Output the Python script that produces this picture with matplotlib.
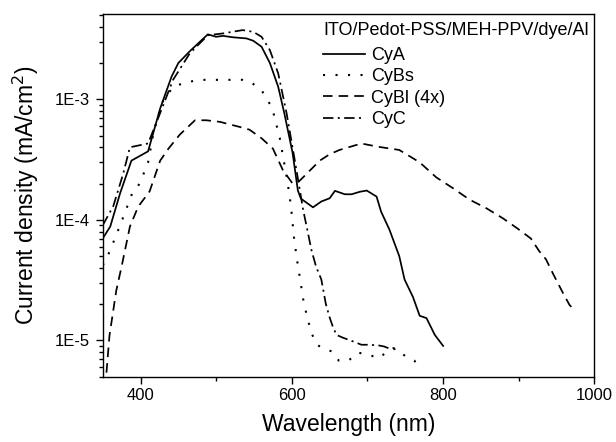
import numpy as np
import matplotlib
matplotlib.use("Agg")
import matplotlib.pyplot as plt
from matplotlib.ticker import FixedLocator, LogLocator, NullFormatter, MultipleLocator

plt.rcParams['font.family'] = ['Liberation Sans', 'DejaVu Sans']

# ---- data ----
cya_x = [350, 360, 373, 388, 410, 426, 441, 450, 465, 489, 500, 509, 522, 540, 549, 560,
         571, 582, 590, 601, 608, 612, 628, 639, 650, 657, 670, 679, 690, 699, 712, 718,
         729, 742, 749, 760, 769, 778, 789, 800]
cya_y = [7.0e-5, 8.8e-5, 1.66e-4, 3.1e-4, 3.7e-4, 8.4e-4, 1.54e-3, 2.0e-3, 2.5e-3, 3.46e-3,
         3.3e-3, 3.36e-3, 3.27e-3, 3.2e-3, 3.06e-3, 2.73e-3, 2.0e-3, 1.27e-3, 7.7e-4, 3.6e-4,
         1.75e-4, 1.5e-4, 1.27e-4, 1.42e-4, 1.51e-4, 1.74e-4, 1.63e-4, 1.63e-4, 1.71e-4,
         1.75e-4, 1.56e-4, 1.17e-4, 8.3e-5, 5.0e-5, 3.2e-5, 2.3e-5, 1.6e-5, 1.53e-5, 1.11e-5,
         9.0e-6]

cybs_x = [350, 353, 360, 375, 389, 399, 410, 417, 428, 443, 460, 478, 535, 547, 560, 574,
          584, 593, 597, 600, 603, 607, 611, 615, 620, 626, 633, 643, 653, 662, 675, 687,
          700, 714, 727, 738, 751, 762, 770]
cybs_y = [4.2e-5, 4.5e-5, 5.6e-5, 9.7e-5, 1.66e-4, 2.0e-4, 3.0e-4, 5.2e-4, 9.3e-4, 1.27e-3,
          1.38e-3, 1.45e-3, 1.45e-3, 1.37e-3, 1.19e-3, 8.5e-4, 4.8e-4, 2.3e-4, 1.6e-4,
          1.1e-4, 7.0e-5, 4.6e-5, 3.2e-5, 2.2e-5, 1.58e-5, 1.15e-5, 9.2e-6, 8.5e-6, 8.1e-6,
          6.8e-6, 6.8e-6, 7.9e-6, 7.7e-6, 7.1e-6, 8.1e-6, 8.6e-6, 7.3e-6, 6.8e-6, 5.6e-6]

cybl_x = [355, 359, 368, 375, 386, 397, 412, 426, 437, 452, 472, 487, 505, 531, 544, 560,
          575, 588, 601, 610, 637, 650, 663, 692, 713, 742, 769, 791, 813, 835, 857, 879,
          898, 916, 927, 936, 945, 958, 967, 973]
cybl_y = [5.4e-6, 1.1e-5, 2.6e-5, 4.1e-5, 8.8e-5, 1.29e-4, 1.72e-4, 3.1e-4, 3.9e-4, 5.1e-4,
          6.7e-4, 6.7e-4, 6.5e-4, 5.9e-4, 5.6e-4, 4.75e-4, 3.9e-4, 2.6e-4, 2.0e-4, 2.1e-4,
          3.1e-4, 3.5e-4, 3.8e-4, 4.3e-4, 4.05e-4, 3.8e-4, 3.0e-4, 2.25e-4, 1.83e-4, 1.47e-4,
          1.25e-4, 1.03e-4, 8.5e-5, 7.0e-5, 5.5e-5, 4.7e-5, 3.6e-5, 2.5e-5, 1.97e-5, 1.8e-5]

cyc_x = [350, 364, 377, 386, 410, 426, 443, 465, 489, 509, 535, 549, 560, 571, 582, 593,
         604, 615, 626, 632, 639, 645, 650, 654, 659, 668, 681, 692, 700, 714, 722, 730, 740]
cyc_y = [9.0e-5, 1.3e-4, 2.4e-4, 4.0e-4, 4.3e-4, 7.7e-4, 1.45e-3, 2.4e-3, 3.4e-3, 3.52e-3,
         3.75e-3, 3.63e-3, 3.3e-3, 2.56e-3, 1.64e-3, 7.7e-4, 3.1e-4, 1.21e-4, 5.6e-5, 4.1e-5,
         3.2e-5, 2.0e-5, 1.55e-5, 1.31e-5, 1.11e-5, 1.05e-5, 9.8e-6, 9.2e-6, 9.2e-6, 9.1e-6,
         8.9e-6, 8.5e-6, 8.8e-6]

labels = ['CyA', 'CyBs', 'CyBl (4x)', 'CyC']
legend_title = 'ITO/Pedot-PSS/MEH-PPV/dye/Al'
ytick_vals = [1e-5, 1e-4, 1e-3]
ytick_labels = ['1E-5', '1E-4', '1E-3']
xtick_vals = [400, 600, 800, 1000]

# ---- figure ----
fig = plt.figure(figsize=(6.16, 4.42), dpi=100)
ax = fig.add_axes([0.1667, 0.1478, 0.7983, 0.8205])

lw = 1.25
ax.plot(cya_x, cya_y, color='black', lw=lw, linestyle='-', label=labels[0])
ax.plot(cybs_x, cybs_y, color='black', lw=lw * 1.2, linestyle=(0, (1, 5.0)), label=labels[1])
ax.plot(cybl_x, cybl_y, color='black', lw=lw, linestyle=(0, (5.5, 3.5)), label=labels[2])
ax.plot(cyc_x, cyc_y, color='black', lw=lw, linestyle=(0, (6, 2.5, 1.2, 2.5)), label=labels[3])

ax.set_yscale('log')
ax.set_xlim(350, 1000)
ax.set_ylim(5.0e-6, 5.1e-3)

ax.xaxis.set_major_locator(FixedLocator(xtick_vals))
ax.xaxis.set_minor_locator(MultipleLocator(100))
ax.yaxis.set_major_locator(FixedLocator(ytick_vals))
ax.set_yticklabels(ytick_labels)
ax.yaxis.set_minor_locator(LogLocator(base=10, subs=np.arange(2, 10)))
ax.yaxis.set_minor_formatter(NullFormatter())

ax.tick_params(which='major', direction='out', length=5.0, width=1.0, labelsize=12,
               top=False, right=False)
ax.tick_params(which='minor', direction='out', length=2.9, width=1.0, top=False, right=False)
ax.tick_params(axis='x', which='major', pad=3)
ax.tick_params(axis='y', which='major', pad=4)
for s in ax.spines.values():
    s.set_linewidth(1.0)

ax.set_xlabel('Wavelength (nm)', fontsize=16.5, labelpad=7)
ax.set_ylabel('Current density (mA/cm$^2$)', fontsize=16.5, labelpad=10)

leg = ax.legend(title=legend_title, loc='upper right', frameon=False, fontsize=13,
                title_fontsize=13, handlelength=2.33, handletextpad=0.3, labelspacing=0.24,
                borderaxespad=0.37, borderpad=0.1, alignment='left',
                bbox_to_anchor=(1.006, 1.0))
leg._legend_box.sep = 5.3

fig.savefig('out.png', dpi=100)
